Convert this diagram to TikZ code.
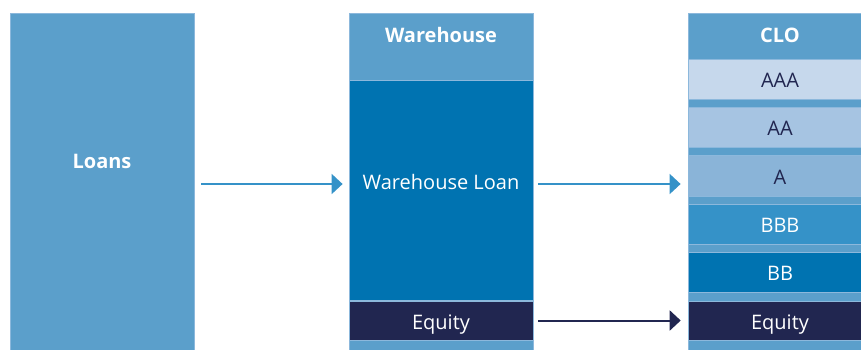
\documentclass[tikz,border=0pt]{standalone}
\usepackage{fontspec}
\setmainfont{Open Sans}
\usepackage{xcolor}
\usepackage{tikz}
\usetikzlibrary{arrows.meta, positioning}

\definecolor{colblue}{RGB}{91,159,203}
\definecolor{edgeblue}{RGB}{140,184,220}
\definecolor{aaablue}{RGB}{198,216,236}
\definecolor{aablue}{RGB}{166,196,226}
\definecolor{ablue}{RGB}{138,180,216}
\definecolor{bbbblue}{RGB}{53,146,200}
\definecolor{bbblue}{RGB}{0,115,177}
\definecolor{navy}{RGB}{33,38,80}

\begin{document}
\begin{tikzpicture}[
  x=1pt, y=-1pt,
  every node/.style={font=\fontsize{20}{24}\selectfont, inner sep=0pt,
                     text height=14pt, text depth=0pt},
  col/.style={draw=edgeblue, line width=0.8pt, fill=colblue,
              minimum width=184pt, minimum height=347pt, anchor=north},
  tr/.style ={draw=edgeblue, line width=0.6pt, minimum width=184pt,
              text height=17pt},
  hd/.style ={text=white, font=\fontsize{20}{24}\selectfont\bfseries},
  lt/.style ={tr, text=navy},
  dk/.style ={tr, text=white},
  arrb/.style={-{Triangle[length=11pt,width=20pt]}, line width=2pt, draw=bbbblue},
  arrn/.style={-{Triangle[length=11pt,width=20pt]}, line width=2pt, draw=navy}
]
\useasboundingbox (0,0) rectangle (861,349);

%% columns
\node[col] (loans) at (102,13) {};
\node[col] (wh)    at (441,13) {};
\node[col] (clo)   at (780,13) {};

%% headers
\node[hd] (loanslbl) at (102,161)  {Loans};
\node[hd] (whlbl)    at (441,35.5) {Warehouse};
\node[hd] (clolbl)   at (780,35.5) {CLO};

%% warehouse
\node[dk, fill=bbblue, minimum height=220pt, anchor=north] (whloan) at (441,80) {};
\node[text=white] (whloanlbl) at (441,182.5) {Warehouse Loan};
\node[dk, fill=navy, minimum height=39pt] (weq) at (441,320.5) {Equity};

%% CLO tranches
\foreach \nm/\lbl/\ya/\yb/\st/\fc in {aaa/AAA/59.3/99/lt/aaablue,
    aa/AA/107/147.7/lt/aablue, a/A/155/196.7/lt/ablue,
    bbb/BBB/204/244/dk/bbbblue, bb/BB/252.7/292/dk/bbblue,
    ceq/Equity/301/340/dk/navy}
  \node[\st, fill=\fc, minimum height=\yb-\ya] (\nm) at (780,{(\ya+\yb)/2}) {\lbl};

%% arrows
\coordinate (arow) at (0,184);
\draw[arrb] ([xshift=7pt]loans.east |- arow) -- ([xshift=-6pt]wh.west |- arow);
\draw[arrb] ([xshift=5pt]wh.east |- arow) -- ([xshift=-7pt]clo.west |- arow);
\draw[arrn] ([xshift=5pt]weq.east) -- ([xshift=-7pt]ceq.west);
\end{tikzpicture}
\end{document}
